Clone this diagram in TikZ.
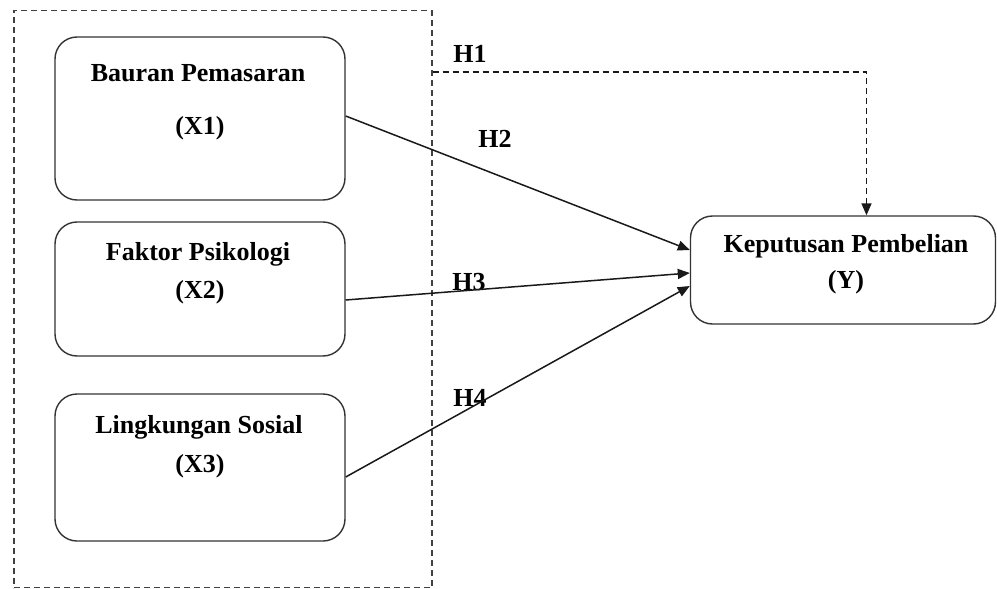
\documentclass[tikz,border=0pt]{standalone}
\usepackage{fontspec}
\setmainfont{Liberation Serif}
\usetikzlibrary{arrows.meta,calc}
\tikzset{
  varbox/.style={draw=black!80, line width=1.4pt, rounded corners=22pt, inner sep=0pt},
  grpbox/.style={draw=black!75, line width=1.3pt, dash pattern=on 6pt off 4pt, inner sep=0pt},
  lbl/.style={font=\bfseries\fontsize{26}{30}\selectfont, inner sep=0pt, text=black},
  conn/.style={draw=black!90, line width=1.5pt, -{Triangle[length=12pt,width=10pt]}},
  hconn/.style={conn, dash pattern=on 6pt off 4pt}
}
\begin{document}
\begin{tikzpicture}[x=1pt,y=-1pt]
\useasboundingbox (0,0) rectangle (997,589);
% group dashed box
\node[grpbox, minimum width=418pt, minimum height=577pt] (grp) at (223,299) {};
% variable boxes
\node[varbox, minimum width=290pt, minimum height=163pt] (X1) at (200,118.5) {};
\node[varbox, minimum width=290pt, minimum height=134pt] (X2) at (200,289) {};
\node[varbox, minimum width=290pt, minimum height=147pt] (X3) at (200,467.5) {};
\node[varbox, minimum width=305pt, minimum height=108pt] (Y) at (843,270) {};
% texts
\node[lbl] (t1a) at (198,73) {Bauran Pemasaran};
\node[lbl] (t1b) at (200,128) {(X1)};
\node[lbl] (t2a) at (198,254) {Faktor Psikologi};
\node[lbl] (t2b) at (200,292) {(X2)};
\node[lbl] (t3a) at (199,427) {Lingkungan Sosial};
\node[lbl] (t3b) at (200,466) {(X3)};
\node[lbl] (tya) at (846,246) {Keputusan Pembelian};
\node[lbl] (tyb) at (846,282) {(Y)};
% hypothesis labels
\node[lbl] (h1) at (470,54) {H1};
\node[lbl] (h2) at (495,139) {H2};
\node[lbl] (h3) at (469,282) {H3};
\node[lbl] (h4) at (470,398) {H4};
% connectors
\coordinate (h1start) at ([yshift=-62pt]grp.north east);
\draw[hconn] (h1start) -| ([xshift=23.5pt]Y.north);
\draw[conn] ([yshift=2.5pt]X1.east) -- ([yshift=20pt]Y.west);
\draw[conn] ([yshift=-11pt]X2.east) -- ([yshift=-3pt]Y.west);
\draw[conn] ([yshift=-9.5pt]X3.east) -- ([yshift=-16pt]Y.west);
\end{tikzpicture}
\end{document}
